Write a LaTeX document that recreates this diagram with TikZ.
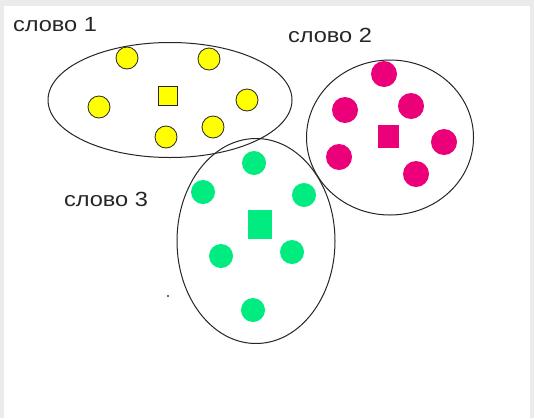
\documentclass[tikz,border=0pt]{standalone}
\usepackage{fontspec}
\setmainfont{Liberation Sans}
\usetikzlibrary{shapes.geometric}
\definecolor{mypink}{RGB}{235,0,122}
\definecolor{mygreen}{RGB}{0,235,128}
\definecolor{myyellow}{RGB}{255,255,0}
\tikzset{
  ring/.style={ellipse, draw=black!85, line width=1pt, inner sep=0pt},
  ydot/.style={circle, draw=black!85, line width=0.8pt, fill=myyellow, minimum size=22pt, inner sep=0pt},
  ysq/.style={rectangle, draw=black!85, line width=0.8pt, fill=myyellow, minimum size=19pt, inner sep=0pt},
  pdot/.style={circle, fill=mypink, minimum size=26pt, inner sep=0pt},
  psq/.style={rectangle, fill=mypink, minimum width=21pt, minimum height=23pt, inner sep=0pt},
  gdot/.style={circle, fill=mygreen, minimum size=24pt, inner sep=0pt},
  gsq/.style={rectangle, fill=mygreen, minimum width=24pt, minimum height=29pt, inner sep=0pt},
  lbl/.style={font=\fontsize{20.5}{24}\selectfont, text=black!85, inner sep=0pt, xscale=1.15},
}
\begin{document}
\begin{tikzpicture}[x=1pt,y=-1pt]
\useasboundingbox (0,0) rectangle (534,418);
\fill[black!8] (0,0) rectangle (534,418);
\fill[white] (4,6) rectangle (530,418);
% ellipses
\node[ring, minimum width=244pt, minimum height=115pt] (e1) at (170,100) {};
\node[ring, minimum width=167pt, minimum height=155pt] (e2) at (390,137.5) {};
\node[ring, minimum width=158pt, minimum height=205pt] (e3) at (256,241) {};
% yellow group
\node[ydot] (y1) at (127,58) {};
\node[ydot] (y2) at (209,59) {};
\node[ydot] (y3) at (99,107) {};
\node[ydot] (y4) at (247,100) {};
\node[ydot] (y5) at (166,137) {};
\node[ydot] (y6) at (213,127) {};
\node[ysq] (ys) at (168,95.5) {};
% pink group
\node[pdot] (p1) at (384,74) {};
\node[pdot] (p2) at (345,110) {};
\node[pdot] (p3) at (411,106) {};
\node[pdot] (p4) at (444,142) {};
\node[pdot] (p5) at (339,157) {};
\node[pdot] (p6) at (416,174) {};
\node[psq] (ps) at (388.5,136.5) {};
% green group
\node[gdot] (g1) at (254,163) {};
\node[gdot] (g2) at (203,192) {};
\node[gdot] (g3) at (304,195) {};
\node[gdot] (g4) at (221,256) {};
\node[gdot] (g5) at (292,252) {};
\node[gdot] (g6) at (253,310) {};
\node[gsq] (gs) at (260,224) {};
% labels
\node[lbl] (l1) at (55,25) {слово 1};
\node[lbl] (l2) at (330,35) {слово 2};
\node[lbl] (l3) at (106,199) {слово 3};
% stray dot
\fill[black!60] (167,294.5) rectangle (169,296.5);
\end{tikzpicture}
\end{document}
